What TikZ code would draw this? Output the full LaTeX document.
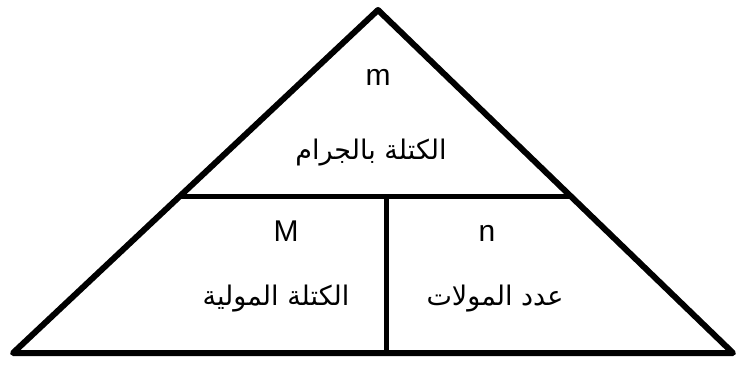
\documentclass[tikz,border=0pt]{standalone}
\usepackage{fontspec}
\setmainfont{Liberation Sans}
\newfontfamily\arabicfont[Script=Arabic]{DejaVu Sans}
\TeXXeTstate=1
\begin{document}
\begin{tikzpicture}[x=1pt,y=1pt,
  outer/.style={line width=6pt,line join=round,line cap=round},
  inner/.style={line width=5pt},
  lat/.style={font=\fontsize{30}{34}\selectfont,inner sep=0pt},
  arab/.style={font=\arabicfont\fontsize{27}{32}\selectfont,inner sep=0pt}]
\useasboundingbox (0,0) rectangle (739,365);
\coordinate (apex) at (378,355);
\coordinate (bl) at (13,12);
\coordinate (br) at (733,12);
\coordinate (hl) at (180,169);
\coordinate (hr) at (570,169);
\coordinate (vt) at (386,169);
\coordinate (vb) at (386,12);
\draw[outer] (bl) -- (apex) -- (br) -- cycle;
\draw[inner] (hl) -- (hr);
\draw[inner] (vt) -- (vb);
\node[lat] (m) at (378,288) {m};
\node[arab] (mg) at (371,212) {\beginR الكتلة بالجرام\endR};
\node[lat] (MM) at (286,134) {M};
\node[lat] (n) at (487,132) {n};
\node[arab] (mm) at (276,66) {\beginR الكتلة المولية\endR};
\node[arab] (nm) at (495,66) {\beginR عدد المولات\endR};
\end{tikzpicture}
\end{document}
